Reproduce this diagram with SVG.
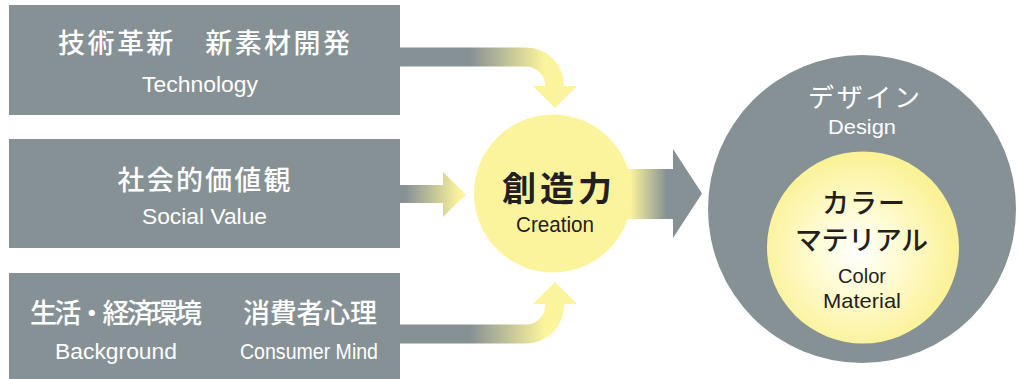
<svg xmlns="http://www.w3.org/2000/svg" width="1018" height="379" viewBox="0 0 1018 379">
<style>
.box{fill:#869195}
.jp{font-family:"Noto Sans CJK JP","Noto Sans CJK SC",sans-serif;text-anchor:middle}
.en{font-family:"Liberation Sans",Arial,sans-serif;text-anchor:middle}
.w{fill:#ffffff}
.k{fill:#231f20}
.yel{fill:#fcf49c}
</style>
<defs>
<linearGradient id="gTop" gradientUnits="userSpaceOnUse" x1="470" y1="0" x2="545" y2="0">
<stop offset="0" stop-color="#869195"/><stop offset="1" stop-color="#fcf49c"/>
</linearGradient>
<linearGradient id="gMid" gradientUnits="userSpaceOnUse" x1="405" y1="0" x2="460" y2="0">
<stop offset="0" stop-color="#869195"/><stop offset="1" stop-color="#fcf49c"/>
</linearGradient>
<linearGradient id="gOut" gradientUnits="userSpaceOnUse" x1="630" y1="0" x2="667" y2="0">
<stop offset="0" stop-color="#fcf49c"/><stop offset="1" stop-color="#869195"/>
</linearGradient>
<radialGradient id="gInner" cx="857" cy="252" r="100" gradientUnits="userSpaceOnUse">
<stop offset="0" stop-color="#ffffff"/><stop offset="0.45" stop-color="#fffbd0"/><stop offset="1" stop-color="#fbf195"/>
</radialGradient>
</defs>

<g id="connectors">
<path d="M396,57 H526 A28.5,28.5 0 0 1 554.5,85.5 V88" fill="none" stroke="url(#gTop)" stroke-width="19"/>
<polygon class="yel" points="533,86 577,86 555,108"/>
<path d="M396,185 H443 V172 L466,194.5 L443,217 V203 H396 Z" fill="url(#gMid)"/>
<path d="M396,334 H526 A28.5,28.5 0 0 0 554.5,305.5 V302" fill="none" stroke="url(#gTop)" stroke-width="19"/>
<polygon class="yel" points="533,304 577,304 555,282"/>
<path d="M600,169 H673 V149 L702,193.5 L673,238 V219 H600 Z" fill="url(#gOut)"/>
</g>

<g id="node-technology">
<rect class="box" x="9" y="5" width="391" height="110"/>
<text class="jp w" x="204" y="53" font-size="27" font-weight="500" textLength="292" lengthAdjust="spacing">技術革新　新素材開発</text>
<text class="en w" x="200" y="92" font-size="22" textLength="116" lengthAdjust="spacingAndGlyphs">Technology</text>
</g>

<g id="node-social">
<rect class="box" x="9" y="139" width="391" height="109"/>
<text class="jp w" x="204" y="190" font-size="27" font-weight="500" textLength="173" lengthAdjust="spacing">社会的価値観</text>
<text class="en w" x="204.5" y="224" font-size="22" textLength="125" lengthAdjust="spacingAndGlyphs">Social Value</text>
</g>

<g id="node-background">
<rect class="box" x="9" y="273" width="391" height="106"/>
<text class="jp w" x="116" y="323" font-size="27" font-weight="500" textLength="172" lengthAdjust="spacing">生活・経済環境</text>
<text class="jp w" x="310" y="323" font-size="27" font-weight="500" textLength="134" lengthAdjust="spacing">消費者心理</text>
<text class="en w" x="116" y="359" font-size="22" textLength="122" lengthAdjust="spacingAndGlyphs">Background</text>
<text class="en w" x="309" y="359" font-size="22" textLength="138" lengthAdjust="spacingAndGlyphs">Consumer Mind</text>
</g>

<g id="node-creation">
<circle class="yel" cx="553" cy="193.5" r="79"/>
<text class="jp k" x="557" y="201" font-size="34" font-weight="bold" textLength="110" lengthAdjust="spacing">創造力</text>
<text class="en k" x="555" y="232" font-size="22" textLength="78" lengthAdjust="spacingAndGlyphs">Creation</text>
</g>

<g id="node-design">
<circle class="box" cx="862" cy="209" r="154"/>
<text class="jp w" x="864" y="107" font-size="26" textLength="112" lengthAdjust="spacing">デザイン</text>
<text class="en w" x="862" y="134" font-size="20" textLength="68" lengthAdjust="spacingAndGlyphs">Design</text>
</g>

<g id="node-color">
<circle cx="863" cy="247.5" r="96" fill="url(#gInner)"/>
<text class="jp k" x="863.5" y="213" font-size="27" font-weight="500" textLength="83" lengthAdjust="spacing">カラー</text>
<text class="jp k" x="861.5" y="250" font-size="27" font-weight="500" textLength="133" lengthAdjust="spacing">マテリアル</text>
<text class="en k" x="862" y="283" font-size="21" textLength="48" lengthAdjust="spacingAndGlyphs">Color</text>
<text class="en k" x="862" y="308" font-size="21" textLength="78" lengthAdjust="spacingAndGlyphs">Material</text>
</g>
</svg>
